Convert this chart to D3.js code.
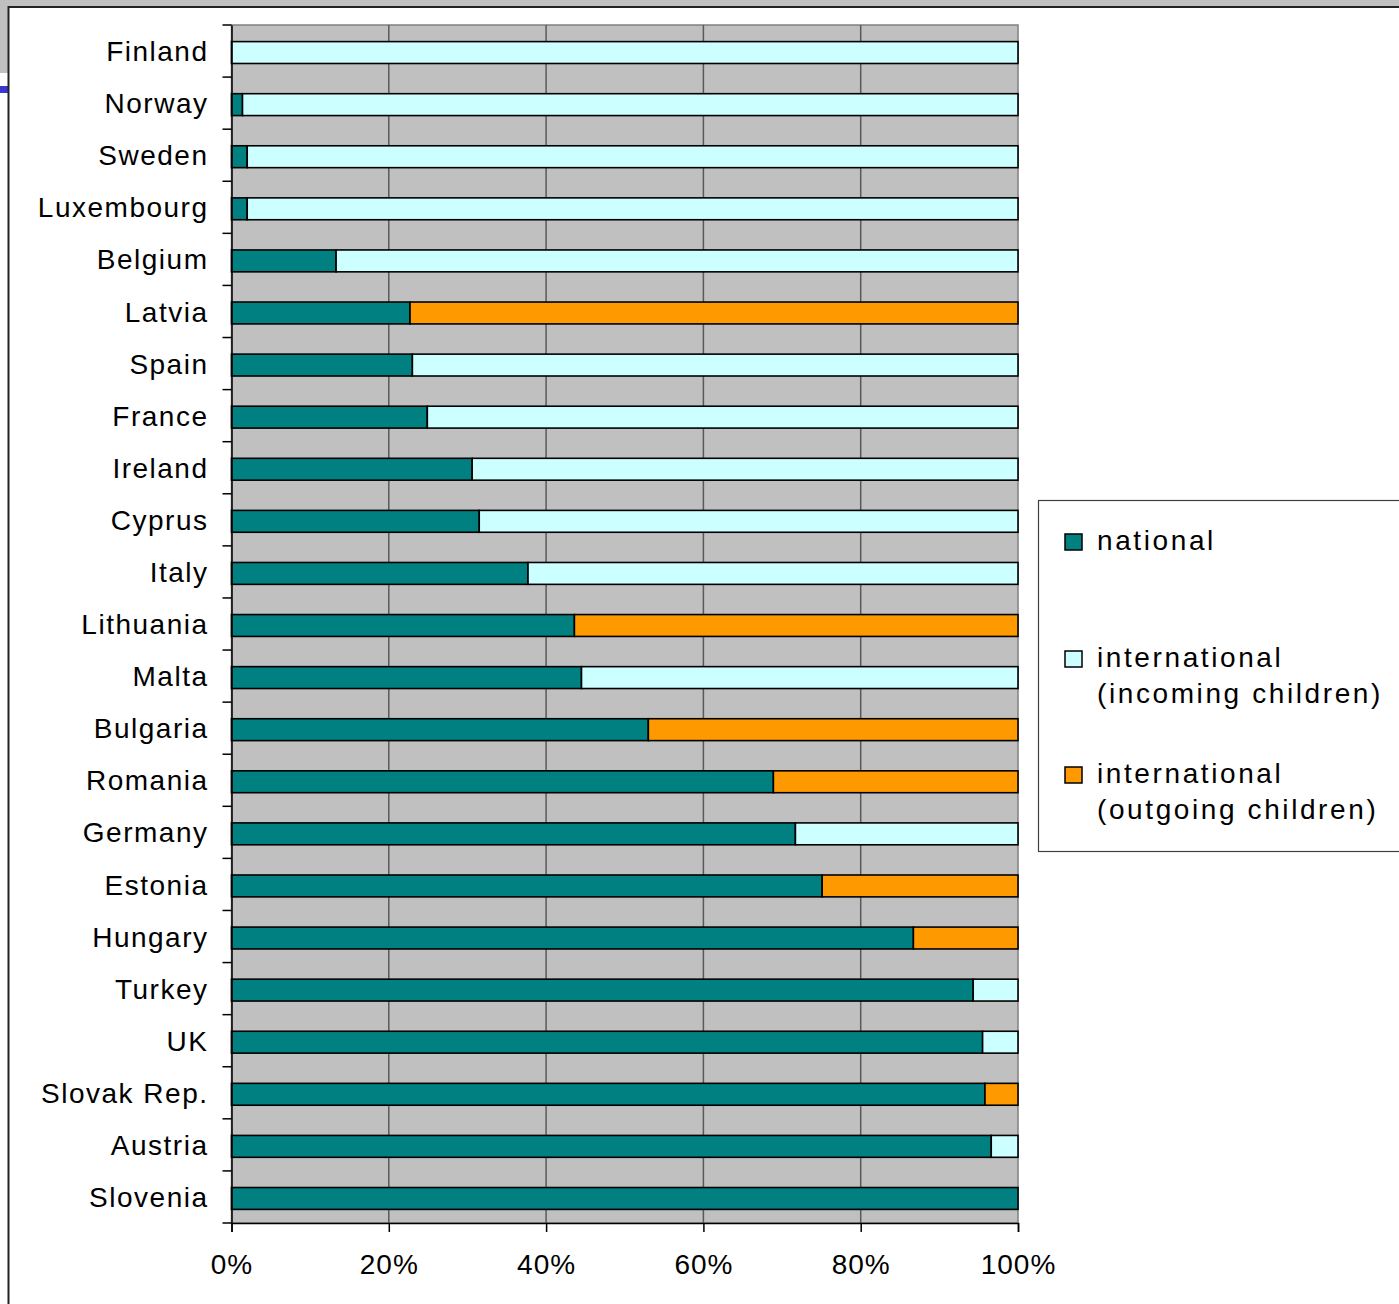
<!DOCTYPE html>
<html>
<head>
<meta charset="utf-8">
<script src="https://cdn.jsdelivr.net/npm/d3@7"></script>
<style>
  body { margin: 0; background: #fff; }
  text { font-family: "Liberation Sans", Arial, sans-serif; fill: #000; }
</style>
</head>
<body>
<svg id="chart" width="1399" height="1304"></svg>
<script>
// data (percent of each country's total)
var countries = ["Finland","Norway","Sweden","Luxembourg","Belgium","Latvia","Spain","France",
  "Ireland","Cyprus","Italy","Lithuania","Malta","Bulgaria","Romania","Germany","Estonia",
  "Hungary","Turkey","UK","Slovak Rep.","Austria","Slovenia"]
var national = [0,1.4,2,2,13.3,22.7,23,24.9,30.6,31.5,37.7,43.6,44.5,53,68.9,71.7,75.1,86.7,94.3,95.5,95.8,96.6,100]
// 1 = the rest is incoming children, 0 = the rest is outgoing children
var incoming_flag = [1,1,1,1,1,0,1,1,1,1,1,0,1,0,0,1,0,0,1,1,0,1,1]
var x_ticks = [0,20,40,60,80,100]
var series = [
  {key:"national", label:["national"], color:"#008080"},
  {key:"incoming", label:["international","(incoming children)"], color:"#ccffff"},
  {key:"outgoing", label:["international","(outgoing children)"], color:"#ff9900"}
]

var rows = countries.map(function(c, i){
  var rest = 100 - national[i]
  return {country:c, national:national[i],
          incoming: incoming_flag[i] ? rest : 0,
          outgoing: incoming_flag[i] ? 0 : rest}
})

var svg = d3.select("#chart")

// window frame bits round the slide
svg.append("rect").attr("x",0).attr("y",0).attr("width",1399).attr("height",6).attr("fill","#c0c0c0")
svg.append("rect").attr("x",0).attr("y",0).attr("width",8).attr("height",73).attr("fill","#c0c0c0")
svg.append("rect").attr("x",0).attr("y",86).attr("width",8).attr("height",7).attr("fill","#3838d0")
svg.append("line").attr("x1",8).attr("x2",1399).attr("y1",7).attr("y2",7).attr("stroke","#222").attr("stroke-width",2)
svg.append("line").attr("x1",8.5).attr("x2",8.5).attr("y1",6).attr("y2",1304).attr("stroke","#222").attr("stroke-width",2)

var plot = {left:231.5, right:1018, top:25, bottom:1223}

var x = d3.scaleLinear().domain([0,100]).range([plot.left, plot.right])
var y = d3.scaleBand().domain(countries).range([plot.top, plot.bottom])
    .paddingInner(0.58).paddingOuter(0.29)

svg.append("rect")
    .attr("x", plot.left).attr("y", plot.top)
    .attr("width", plot.right - plot.left).attr("height", plot.bottom - plot.top)
    .attr("fill","#c0c0c0").attr("stroke","#808080").attr("stroke-width",1.5)

svg.selectAll(".grid")
    .data(x_ticks.slice(1, -1))
    .enter()
    .append("line")
    .attr("class","grid")
    .attr("x1", function(d){ return x(d) }).attr("x2", function(d){ return x(d) })
    .attr("y1", plot.top).attr("y2", plot.bottom)
    .attr("stroke","#5a5a5a").attr("stroke-width",1.5)

var stack = d3.stack().keys(series.map(function(s){ return s.key }))
var layers = stack(rows)

svg.selectAll(".layer")
    .data(layers)
    .enter()
    .append("g")
    .attr("class","layer")
    .attr("transform","translate(0,1.5)")
    .attr("fill", function(d, i){ return series[i].color })
    .selectAll("rect")
    .data(function(d){ return d.filter(function(p){ return p[1] - p[0] > 0 }) })
    .enter()
    .append("rect")
    .attr("x", function(d){ return x(d[0]) })
    .attr("width", function(d){ return x(d[1]) - x(d[0]) })
    .attr("y", function(d){ return y(d.data.country) })
    .attr("height", y.bandwidth())
    .attr("stroke","#000").attr("stroke-width",1.6)

// y axis: labels in the middle of each band, ticks on the band borders
var y_axis = svg.append("g")
    .attr("transform","translate(" + plot.left + ",0)")
    .call(d3.axisLeft(y).tickSize(0).tickPadding(23))
y_axis.select(".domain").attr("stroke","#000").attr("stroke-width",1.5)
y_axis.selectAll("text")
    .attr("font-size",28).attr("letter-spacing","1.5px").attr("dy","0.36em")
    .attr("font-family",'"Liberation Sans", Arial, sans-serif')

var step = (plot.bottom - plot.top) / countries.length
svg.selectAll(".ytick")
    .data(d3.range(countries.length + 1))
    .enter()
    .append("line")
    .attr("class","ytick")
    .attr("x1", plot.left - 9).attr("x2", plot.left)
    .attr("y1", function(i){ return plot.top + i * step })
    .attr("y2", function(i){ return plot.top + i * step })
    .attr("stroke","#000").attr("stroke-width",1.5)

var x_axis = svg.append("g")
    .attr("transform","translate(0," + plot.bottom + ")")
    .call(d3.axisBottom(x).tickValues(x_ticks).tickSize(9).tickPadding(22)
        .tickFormat(function(d){ return d + "%" }))
x_axis.select(".domain").attr("stroke","#000").attr("stroke-width",1.5)
x_axis.selectAll("line").attr("stroke","#000").attr("stroke-width",1.5)
x_axis.selectAll("text")
    .attr("font-size",28).attr("letter-spacing","1px")
    .attr("font-family",'"Liberation Sans", Arial, sans-serif')

// legend
var legend = svg.append("g").attr("class","legend")
legend.append("rect")
    .attr("x",1038.5).attr("y",500.5).attr("width",420).attr("height",351)
    .attr("fill","#fff").attr("stroke","#404040").attr("stroke-width",1.2)

var legend_top = [550, 667, 783]
var item = legend.selectAll(".item")
    .data(series)
    .enter()
    .append("g")
    .attr("class","item")
    .attr("transform", function(d, i){ return "translate(1065," + legend_top[i] + ")" })
item.append("rect")
    .attr("x",0).attr("y",-16).attr("width",17).attr("height",16)
    .attr("fill", function(d){ return d.color })
    .attr("stroke","#000").attr("stroke-width",1.5)
item.append("text")
    .attr("x",32)
    .attr("font-size",28).attr("letter-spacing","2.6px")
    .selectAll("tspan")
    .data(function(d){ return d.label })
    .enter()
    .append("tspan")
    .attr("x",32)
    .attr("y", function(d, i){ return i * 36 })
    .text(function(d){ return d })
</script>
</body>
</html>
